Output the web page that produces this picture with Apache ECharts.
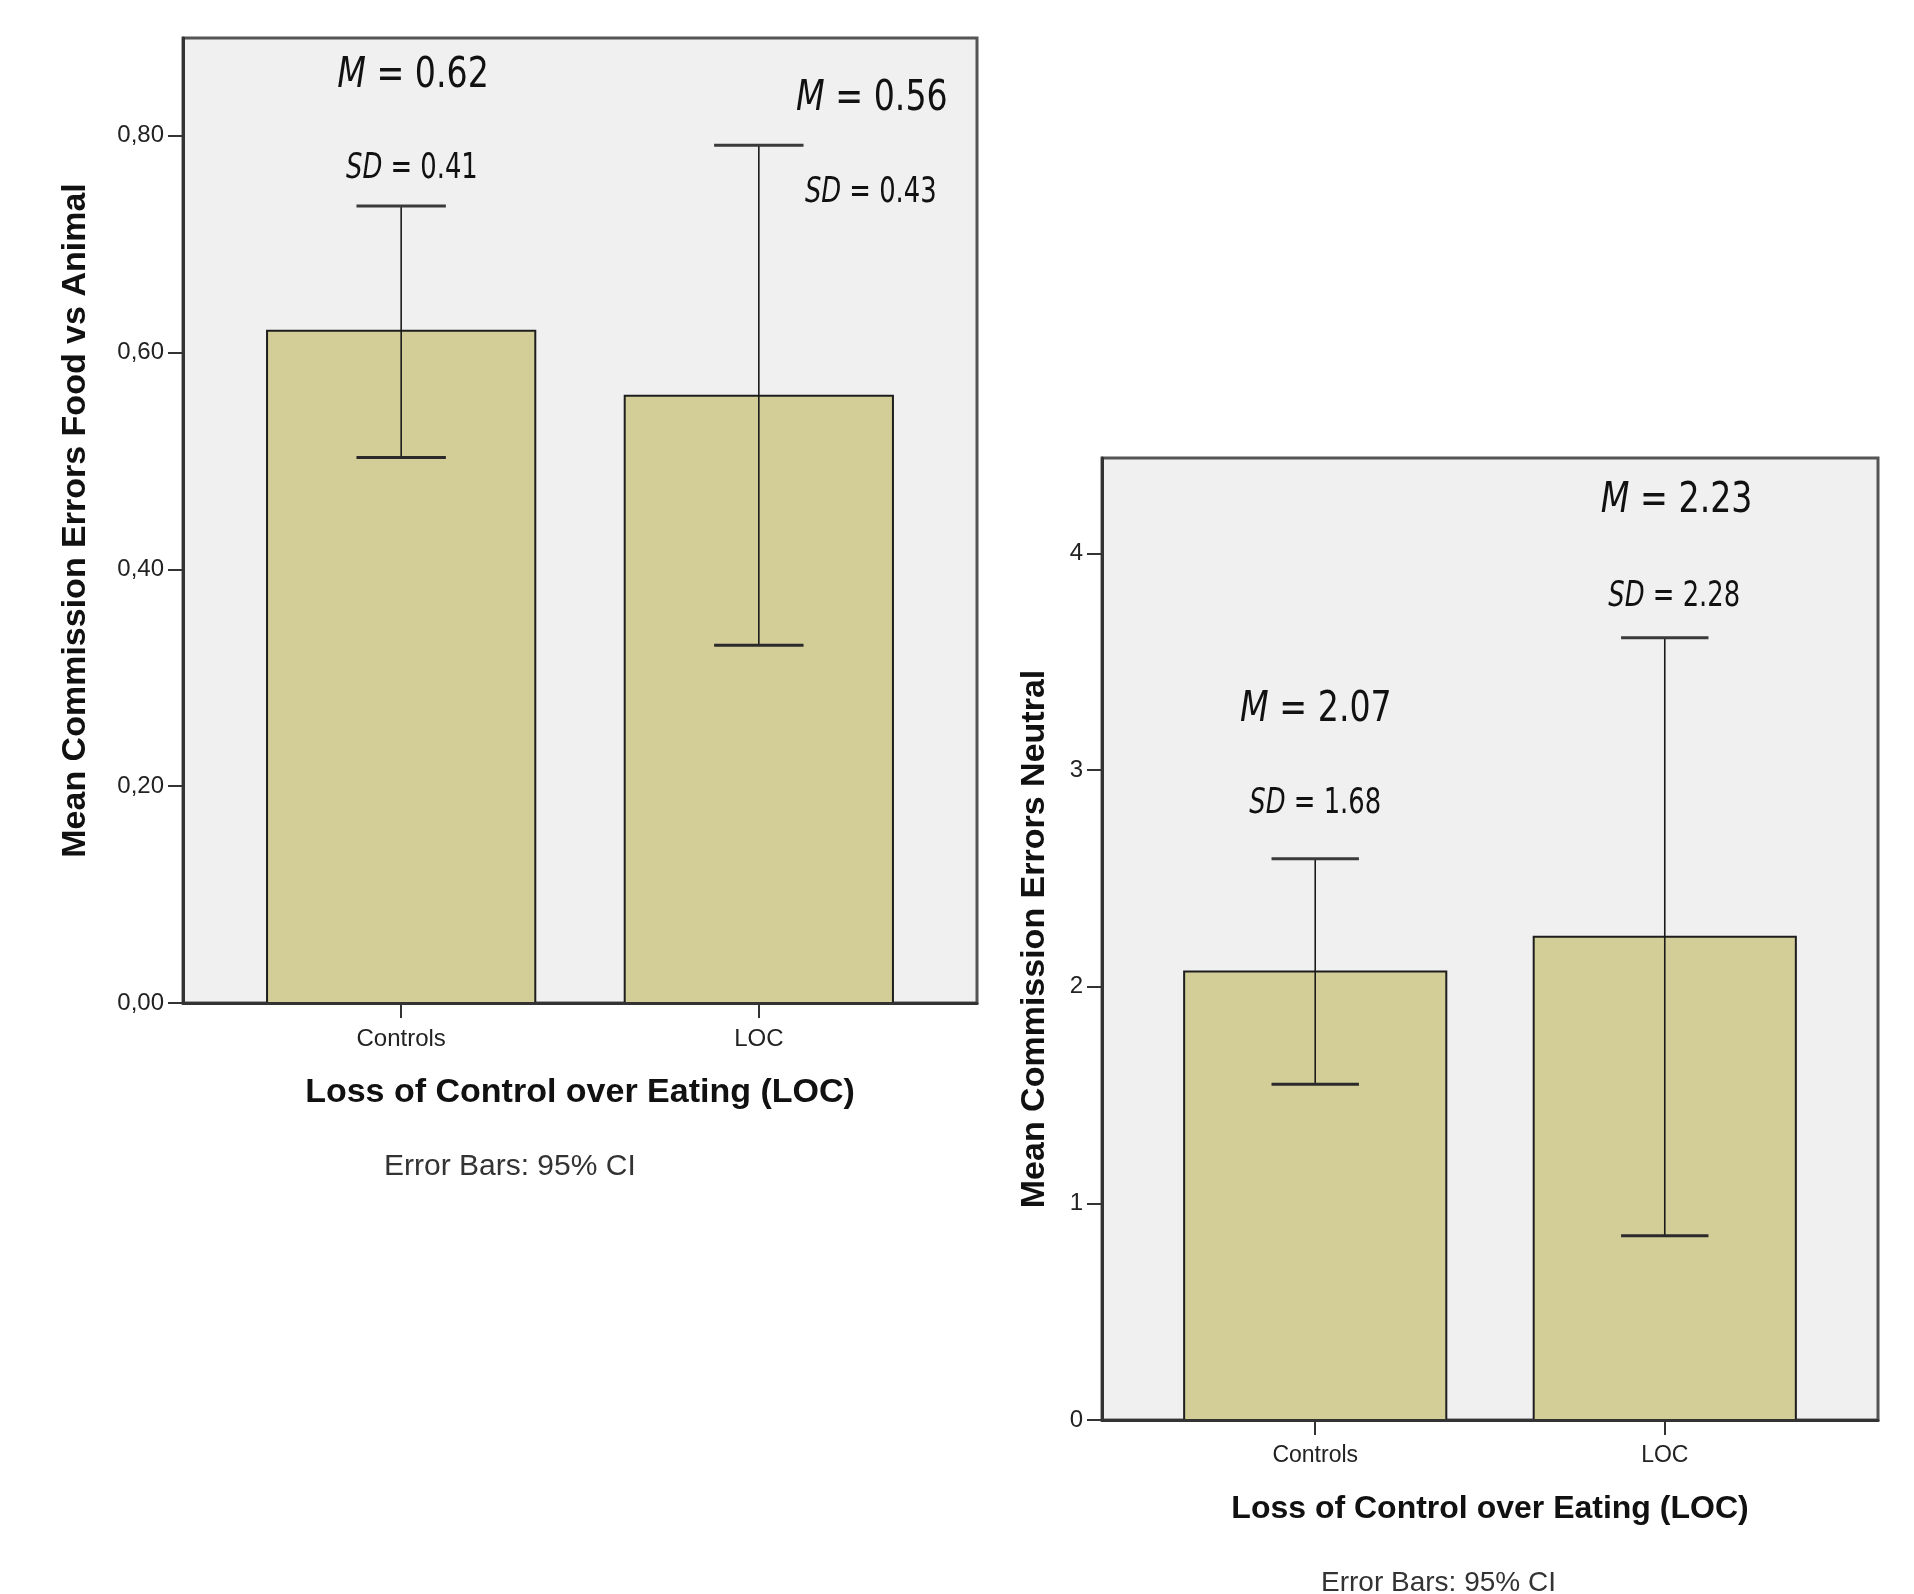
<!DOCTYPE html>
<html>
<head>
<meta charset="utf-8">
<script src="https://cdn.jsdelivr.net/npm/echarts@6/dist/echarts.min.js"></script>
<style>
  html, body { margin: 0; padding: 0; background: #ffffff; }
  #chart { width: 1914px; height: 1594px; }
</style>
</head>
<body>
<div id="chart"></div>
<script>
// Groups on the horizontal axis
const groups = ['Controls', 'LOC'];

// Panel A: commission errors, food vs animal
const foodMeans = [0.62, 0.56];
const foodSD = [0.41, 0.43];
const foodCILow = [0.503, 0.330];
const foodCIHigh = [0.735, 0.791];
const foodTicks = [0, 0.2, 0.4, 0.6, 0.8];

// Panel B: commission errors, neutral
const neutralMeans = [2.07, 2.23];
const neutralSD = [1.68, 2.28];
const neutralCILow = [1.55, 0.85];
const neutralCIHigh = [2.59, 3.61];
const neutralTicks = [0, 1, 2, 3, 4];

// ---- layout & styling ----
const BAR_W = 0.75;      // bar width in category units
const CAP_W = 0.25;      // error-bar cap width in category units
const BAR_FILL = '#d3cd97';
const FRAME = '#555555';
const AXIS = '#333333';
const NARROW = '"Liberation Sans Narrow", "DejaVu Sans Condensed", "Roboto Condensed", "Noto Sans", sans-serif';
const SANS = '"Liberation Sans", Arial, sans-serif';

// Annotation anchors (data units) for the M / SD labels of each group
const foodMAnchor = [[0.033, 0.855], [1.316, 0.834]];
const foodSDAnchor = [[0.030, 0.769], [1.313, 0.747]];
const neutralMAnchor = [[0.002, 3.275], [1.034, 4.240]];
const neutralSDAnchor = [[0.000, 2.845], [1.027, 3.800]];

function barRows(means, lo, hi) {
  return means.map((m, i) => [i, m, lo[i], hi[i]]);
}
function labelRows(anchors, vals, key) {
  return anchors.map((a, i) => [a[0], a[1], key, vals[i].toFixed(2)]);
}

function renderBar(params, api) {
  const x = api.value(0), m = api.value(1), lo = api.value(2), hi = api.value(3);
  const base = api.coord([x, 0]);
  const top = api.coord([x, m]);
  const halfW = api.size([BAR_W, 0])[0] / 2;
  const capHalf = api.size([CAP_W, 0])[0] / 2;
  const pLo = api.coord([x, lo]);
  const pHi = api.coord([x, hi]);
  return {
    type: 'group',
    children: [
      { type: 'rect',
        shape: { x: base[0] - halfW, y: top[1], width: 2 * halfW, height: base[1] - top[1] },
        style: { fill: BAR_FILL, stroke: '#1e1e1e', lineWidth: 2 } },
      { type: 'line',
        shape: { x1: pHi[0], y1: pHi[1], x2: pLo[0], y2: pLo[1] },
        style: { stroke: '#1a1a1a', lineWidth: 1.6 } },
      { type: 'line',
        shape: { x1: pHi[0] - capHalf, y1: pHi[1], x2: pHi[0] + capHalf, y2: pHi[1] },
        style: { stroke: '#3a3a3a', lineWidth: 3 } },
      { type: 'line',
        shape: { x1: pLo[0] - capHalf, y1: pLo[1], x2: pLo[0] + capHalf, y2: pLo[1] },
        style: { stroke: '#2a2a2a', lineWidth: 3 } }
    ]
  };
}

function renderLabel(params, api) {
  const p = api.coord([api.value(0), api.value(1)]);
  const key = api.value(2);
  const num = api.value(3);
  const big = key === 'M';
  const size = big ? 42 : 35;
  return {
    type: 'text',
    x: p[0], y: p[1],
    scaleX: big ? 0.88 : 0.82,
    style: {
      text: '{it|' + key + '}{n| = ' + num + '}',
      align: 'center',
      verticalAlign: 'middle',
      rich: {
        it: { fontFamily: NARROW, fontStyle: 'italic', fontSize: size, fill: '#111' },
        n: { fontFamily: NARROW, fontSize: size, fill: '#111' }
      }
    }
  };
}

function xAxisFor(gridIndex, labelSize, nameSize) {
  return {
    gridIndex, type: 'value', min: -0.61, max: 1.61, z: 5,
    axisLine: { show: true, onZero: false, lineStyle: { color: AXIS, width: 3 } },
    axisTick: { show: true, customValues: [0, 1], length: 15, lineStyle: { color: AXIS, width: 2 } },
    axisLabel: { customValues: [0, 1], formatter: v => groups[Math.round(v)],
      fontFamily: SANS, fontSize: labelSize, color: '#222', margin: 24 },
    splitLine: { show: false },
    name: 'Loss of Control over Eating (LOC)', nameLocation: 'middle', nameGap: 73,
    nameTextStyle: { fontFamily: SANS, fontSize: nameSize, fontWeight: 'bold', color: '#111' }
  };
}

function yAxisFor(gridIndex, max, ticks, fmt, name, nameGap) {
  return {
    gridIndex, type: 'value', min: 0, max, z: 5,
    axisLine: { show: true, onZero: false, lineStyle: { color: AXIS, width: 3 } },
    axisTick: { show: true, customValues: ticks, length: 15, lineStyle: { color: AXIS, width: 2 } },
    axisLabel: { customValues: ticks, formatter: fmt, fontFamily: SANS, fontSize: 24, color: '#222', margin: 19 },
    splitLine: { show: false },
    name, nameLocation: 'middle', nameGap,
    nameTextStyle: { fontFamily: SANS, fontSize: 34, fontWeight: 'bold', color: '#111' }
  };
}

const chart = echarts.init(document.getElementById('chart'), null, { renderer: 'canvas' });

chart.setOption({
  backgroundColor: '#ffffff',
  animation: false,
  title: [
    { text: 'Error Bars: 95% CI', left: 379, top: 1147,
      textStyle: { fontFamily: SANS, fontSize: 30, fontWeight: 'normal', color: '#333' } },
    { text: 'Error Bars: 95% CI', left: 1316, top: 1564,
      textStyle: { fontFamily: SANS, fontSize: 28, fontWeight: 'normal', color: '#333' } }
  ],
  grid: [
    { left: 183, top: 38, width: 794, height: 965, show: true,
      backgroundColor: '#f0f0f0', borderColor: FRAME, borderWidth: 3 },
    { left: 1102, top: 458, width: 776, height: 962, show: true,
      backgroundColor: '#f0f0f0', borderColor: FRAME, borderWidth: 3 }
  ],
  xAxis: [xAxisFor(0, 24, 34), xAxisFor(1, 23, 32)],
  yAxis: [
    yAxisFor(0, 0.89, foodTicks, v => v.toFixed(2).replace('.', ','), 'Mean Commission Errors Food vs Animal', 90),
    yAxisFor(1, 4.44, neutralTicks, v => String(Math.round(v)), 'Mean Commission Errors Neutral', 50)
  ],
  series: [
    { type: 'custom', xAxisIndex: 0, yAxisIndex: 0, renderItem: renderBar,
      data: barRows(foodMeans, foodCILow, foodCIHigh), z: 2 },
    { type: 'custom', xAxisIndex: 1, yAxisIndex: 1, renderItem: renderBar,
      data: barRows(neutralMeans, neutralCILow, neutralCIHigh), z: 2 },
    { type: 'custom', xAxisIndex: 0, yAxisIndex: 0, renderItem: renderLabel,
      data: labelRows(foodMAnchor, foodMeans, 'M').concat(labelRows(foodSDAnchor, foodSD, 'SD')),
      dimensions: ['x', 'y', { name: 'key', type: 'ordinal' }, { name: 'num', type: 'ordinal' }], z: 6 },
    { type: 'custom', xAxisIndex: 1, yAxisIndex: 1, renderItem: renderLabel,
      data: labelRows(neutralMAnchor, neutralMeans, 'M').concat(labelRows(neutralSDAnchor, neutralSD, 'SD')),
      dimensions: ['x', 'y', { name: 'key', type: 'ordinal' }, { name: 'num', type: 'ordinal' }], z: 6 }
  ]
});
</script>
</body>
</html>
